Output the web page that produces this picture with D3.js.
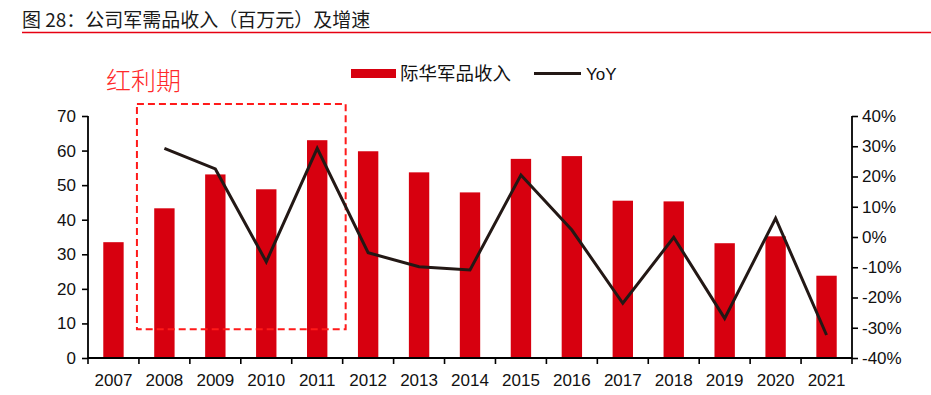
<!DOCTYPE html>
<html><head><meta charset="utf-8">
<script src="https://cdn.jsdelivr.net/npm/d3@7"></script>
<style>
html,body{margin:0;padding:0;background:#fff;}
svg{display:block;}
text{font-family:"Liberation Sans",Arial,sans-serif;}
.cjk{font-family:"Noto Sans CJK SC","Liberation Sans",sans-serif;}
</style></head>
<body>
<svg id="c" width="931" height="395"></svg>
<script>
const years = ["2007","2008","2009","2010","2011","2012","2013","2014","2015","2016","2017","2018","2019","2020","2021"];
const revenue = [33.5,43.3,53.1,48.8,63.0,59.8,53.7,47.9,57.6,58.4,45.5,45.3,33.2,35.2,23.8];
const yoy = [null,29.3,22.5,-8.2,29.3,-5.2,-9.8,-10.9,20.5,2.3,-21.9,-0.1,-26.9,6.2,-32.4];
const leftTicks = [0,10,20,30,40,50,60,70];
const rightTicks = [-40,-30,-20,-10,0,10,20,30,40];
const titleText = "图 28：公司军需品收入（百万元）及增速";
const highlightLabel = "红利期";
const legendLabels = ["际华军品收入","YoY"];

const svg = d3.select("#c");
const m = {l:88, r:852, t:116, b:358};
const x = d3.scaleBand().domain(years).range([m.l, m.r]).paddingInner(0.6).paddingOuter(0.3);
const xb = d3.scaleBand().domain(years).range([m.l, m.r]);
const yL = d3.scaleLinear().domain([0,70]).range([m.b, m.t]);
const yR = d3.scaleLinear().domain([-40,40]).range([m.b, m.t]);
const red = "#d7000f", dark = "#231815";

// title
svg.append("text").attr("class","cjk").attr("x",22).attr("y",27)
  .attr("font-size",19).attr("fill","#1a1a1a").text(titleText);
svg.append("line").attr("x1",22).attr("x2",931).attr("y1",32.5).attr("y2",32.5)
  .attr("stroke","#e60012").attr("stroke-width",1.6);

// bars
svg.append("g").selectAll("rect").data(years).join("rect")
  .attr("x", d=>x(d)).attr("width", x.bandwidth())
  .attr("y", (d,i)=>yL(revenue[i])).attr("height",(d,i)=>yL(0)-yL(revenue[i]))
  .attr("fill", red);

// highlight dashed box
const bx0 = xb("2008") - 2, bx1 = xb("2011") + xb.bandwidth() + 3;
svg.append("rect").attr("x", bx0).attr("y", 104)
  .attr("width", bx1 - bx0).attr("height", yL(8.3) - 104)
  .attr("fill","none").attr("stroke","#ff1a1a").attr("stroke-width",2)
  .attr("stroke-dasharray","7,4");
svg.append("text").attr("class","cjk").attr("x",106).attr("y",90)
  .attr("font-size",25).attr("font-weight",300).attr("fill","#ff2a2a").text(highlightLabel);

// line
const pts = years.map((d,i)=>({d, v:yoy[i]})).filter(p=>p.v!==null);
svg.append("path").datum(pts)
  .attr("d", d3.line().x(p=>xb(p.d)+xb.bandwidth()/2).y(p=>yR(p.v)))
  .attr("fill","none").attr("stroke",dark).attr("stroke-width",3).attr("stroke-linejoin","miter");

// axes
const gL = svg.append("g").attr("transform",`translate(${m.l},0)`)
  .call(d3.axisLeft(yL).tickValues(leftTicks).tickSize(6).tickPadding(6));
const gR = svg.append("g").attr("transform",`translate(${m.r},0)`)
  .call(d3.axisRight(yR).tickValues(rightTicks).tickSize(6).tickPadding(4).tickFormat(d=>d+"%"));
const gX = svg.append("g").attr("transform",`translate(0,${m.b})`)
  .call(d3.axisBottom(xb).tickSize(0).tickPadding(16));
// x ticks between categories
svg.append("g").selectAll("line").data(years.concat(["end"])).join("line")
  .attr("x1",(d,i)=> m.l + i*xb.step()).attr("x2",(d,i)=> m.l + i*xb.step())
  .attr("y1",m.b).attr("y2",m.b+6).attr("stroke","#000").attr("stroke-width",1.6);
[gL,gR,gX].forEach(g=>{
  g.selectAll(".domain").attr("stroke","#000").attr("stroke-width",1.8);
  g.selectAll(".tick line").attr("stroke","#000").attr("stroke-width",1.6);
  g.selectAll("text").attr("font-size",17).attr("fill","#111")
    .attr("font-family","'Liberation Sans',Arial,sans-serif");
});
gX.select(".domain").attr("d",`M${m.l},0H${m.r}`);
gL.select(".domain").attr("d",`M0,${m.t}V${m.b}`);
gR.select(".domain").attr("d",`M0,${m.t}V${m.b}`);

// legend
const lg = svg.append("g");
lg.append("rect").attr("x",351).attr("y",69).attr("width",45).attr("height",9).attr("fill",red);
lg.append("text").attr("class","cjk").attr("x",400).attr("y",80).attr("font-size",18.5).attr("fill","#111").text(legendLabels[0]);
lg.append("line").attr("x1",534).attr("x2",581).attr("y1",73.5).attr("y2",73.5).attr("stroke",dark).attr("stroke-width",3);
lg.append("text").attr("x",586).attr("y",80).attr("font-size",17).attr("fill","#111").text(legendLabels[1]);
</script>
</body></html>
